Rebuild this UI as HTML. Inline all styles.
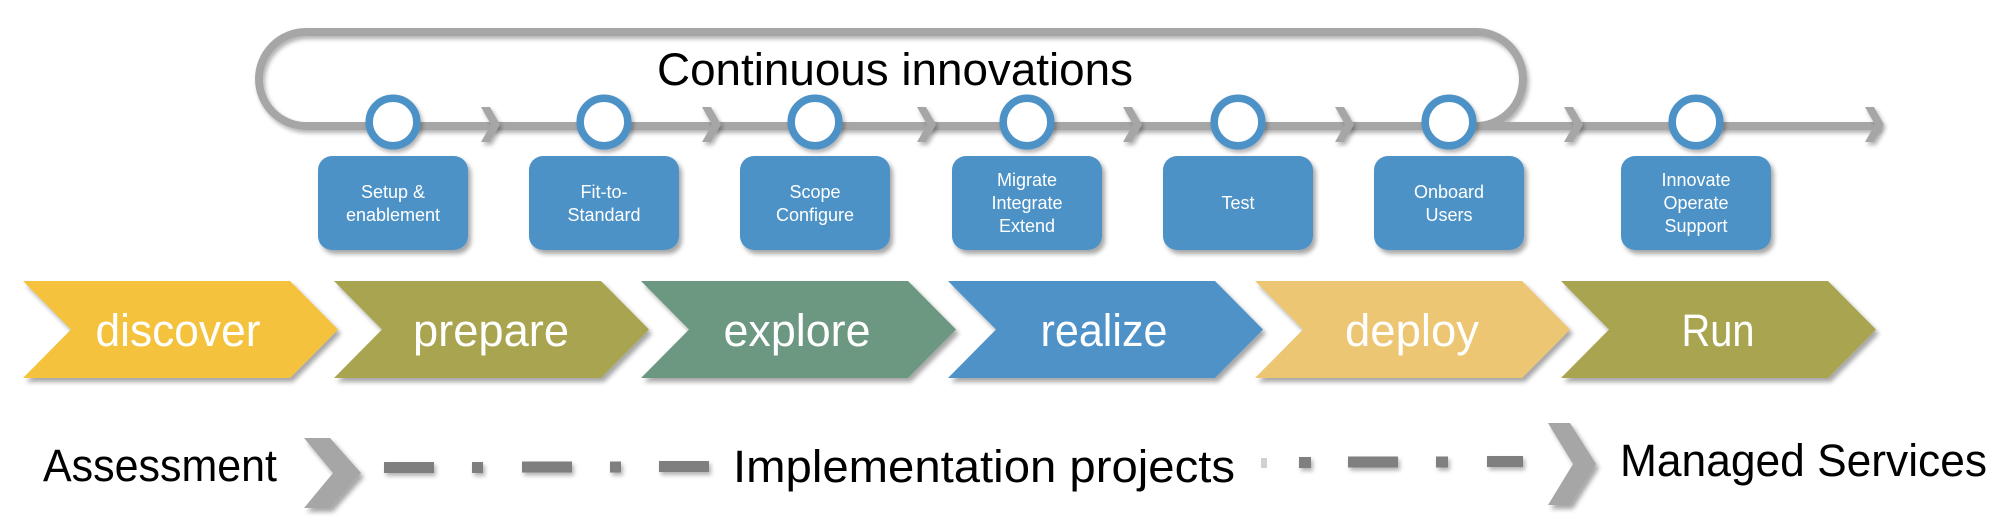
<!DOCTYPE html>
<html>
<head>
<meta charset="utf-8">
<style>
html,body{margin:0;padding:0;background:#fff;}
svg{display:block;}
text{font-family:"Liberation Sans",Arial,sans-serif;}
</style>
</head>
<body>
<svg width="2000" height="527" viewBox="0 0 2000 527" xmlns="http://www.w3.org/2000/svg">
<defs>
<filter id="sh" x="-20%" y="-20%" width="140%" height="160%">
<feDropShadow dx="3" dy="4" stdDeviation="2.5" flood-color="#000" flood-opacity="0.35"/>
</filter>
<filter id="shs" x="-20%" y="-50%" width="140%" height="200%">
<feDropShadow dx="2" dy="3" stdDeviation="2" flood-color="#000" flood-opacity="0.3"/>
</filter>
</defs>

<!-- Loop and main line -->
<g fill="none" stroke="#a6a6a6" stroke-width="8" filter="url(#shs)">
<path d="M306,126 A47,47 0 0 1 306,32 L1476,32 A47,47 0 0 1 1476,126"/>
<line x1="306" y1="126" x2="1879" y2="126"/>
</g>

<!-- small arrows on line -->
<g fill="#a6a6a6" filter="url(#shs)">
<polygon points="481,107 490,107 500,124.5 490,142 481,142 491,124.5"/>
<polygon points="702,107 711,107 721,124.5 711,142 702,142 712,124.5"/>
<polygon points="917,107 926,107 936,124.5 926,142 917,142 927,124.5"/>
<polygon points="1123,107 1132,107 1142,124.5 1132,142 1123,142 1133,124.5"/>
<polygon points="1335,107 1344,107 1354,124.5 1344,142 1335,142 1345,124.5"/>
<polygon points="1564,107 1573,107 1583,124.5 1573,142 1564,142 1574,124.5"/>
<polygon points="1865,107 1874,107 1884,124.5 1874,142 1865,142 1875,124.5"/>
</g>

<!-- Circles -->
<g fill="#fff" stroke="#4e92c7" stroke-width="7.5" filter="url(#shs)">
<circle cx="393" cy="122" r="23.8"/>
<circle cx="604" cy="122" r="23.8"/>
<circle cx="815" cy="122" r="23.8"/>
<circle cx="1027" cy="122" r="23.8"/>
<circle cx="1238" cy="122" r="23.8"/>
<circle cx="1449" cy="122" r="23.8"/>
<circle cx="1696" cy="122" r="23.8"/>
</g>

<text x="657" y="85" font-size="45" fill="#000" textLength="476" lengthAdjust="spacingAndGlyphs">Continuous innovations</text>

<!-- Boxes -->
<g fill="#4e92c7" filter="url(#sh)">
<rect x="318" y="156" width="150" height="94" rx="14"/>
<rect x="529" y="156" width="150" height="94" rx="14"/>
<rect x="740" y="156" width="150" height="94" rx="14"/>
<rect x="952" y="156" width="150" height="94" rx="14"/>
<rect x="1163" y="156" width="150" height="94" rx="14"/>
<rect x="1374" y="156" width="150" height="94" rx="14"/>
<rect x="1621" y="156" width="150" height="94" rx="14"/>
</g>
<g fill="#fff" font-size="18" text-anchor="middle">
<text x="393" y="198">Setup &amp;</text>
<text x="393" y="221">enablement</text>
<text x="604" y="198">Fit-to-</text>
<text x="604" y="221">Standard</text>
<text x="815" y="198">Scope</text>
<text x="815" y="221">Configure</text>
<text x="1027" y="186">Migrate</text>
<text x="1027" y="209">Integrate</text>
<text x="1027" y="232">Extend</text>
<text x="1238" y="209">Test</text>
<text x="1449" y="198">Onboard</text>
<text x="1449" y="221">Users</text>
<text x="1696" y="186">Innovate</text>
<text x="1696" y="209">Operate</text>
<text x="1696" y="232">Support</text>
</g>

<!-- Phase chevrons -->
<g filter="url(#sh)">
<polygon fill="#f4c23c" points="23,281 290,281 338,329.5 290,378 23,378 71,329.5"/>
<polygon fill="#a9a44f" points="334,281 601,281 649,329.5 601,378 334,378 382,329.5"/>
<polygon fill="#6c9780" points="641,281 908,281 956,329.5 908,378 641,378 689,329.5"/>
<polygon fill="#4f92c7" points="948,281 1215,281 1263,329.5 1215,378 948,378 996,329.5"/>
<polygon fill="#ecc673" points="1255,281 1522,281 1570,329.5 1522,378 1255,378 1303,329.5"/>
<polygon fill="#a9a44f" points="1561,281 1828,281 1876,329.5 1828,378 1561,378 1609,329.5"/>
</g>
<g fill="#fff" font-size="45" text-anchor="middle">
<text x="178" y="346" textLength="165" lengthAdjust="spacingAndGlyphs">discover</text>
<text x="491" y="346" textLength="156" lengthAdjust="spacingAndGlyphs">prepare</text>
<text x="797" y="346" textLength="147" lengthAdjust="spacingAndGlyphs">explore</text>
<text x="1104" y="346" textLength="127" lengthAdjust="spacingAndGlyphs">realize</text>
<text x="1412" y="346" textLength="134" lengthAdjust="spacingAndGlyphs">deploy</text>
<text x="1718" y="346" textLength="73" lengthAdjust="spacingAndGlyphs">Run</text>
</g>

<!-- Bottom row -->
<text x="43" y="481" font-size="45" fill="#000" textLength="234" lengthAdjust="spacingAndGlyphs">Assessment</text>
<polygon fill="#a6a6a6" filter="url(#sh)" points="304,438 330,438 361,473 330,508 304,508 333,473"/>

<g fill="#7f7f7f" filter="url(#shs)">
<rect x="384" y="462" width="50" height="11"/>
<rect x="472" y="462" width="11" height="11"/>
<rect x="522" y="461.5" width="50" height="11"/>
<rect x="610" y="461.5" width="11" height="11"/>
<rect x="659" y="461" width="50" height="11"/>
<rect x="1299" y="457" width="12" height="11"/>
<rect x="1348" y="456.5" width="50" height="11"/>
<rect x="1436" y="456.5" width="12" height="11"/>
<rect x="1487" y="456" width="36" height="11"/>
</g>
<rect x="1261" y="458" width="6" height="10" fill="#bdbdbd" opacity="0.7"/>

<text x="733" y="482" font-size="45" fill="#000" textLength="502" lengthAdjust="spacingAndGlyphs">Implementation projects</text>

<polygon fill="#a6a6a6" filter="url(#sh)" points="1548,423 1570,423 1596,464 1570,505 1548,505 1573,464"/>
<text x="1620" y="476" font-size="45" fill="#000" textLength="367" lengthAdjust="spacingAndGlyphs">Managed Services</text>
</svg>
</body>
</html>
